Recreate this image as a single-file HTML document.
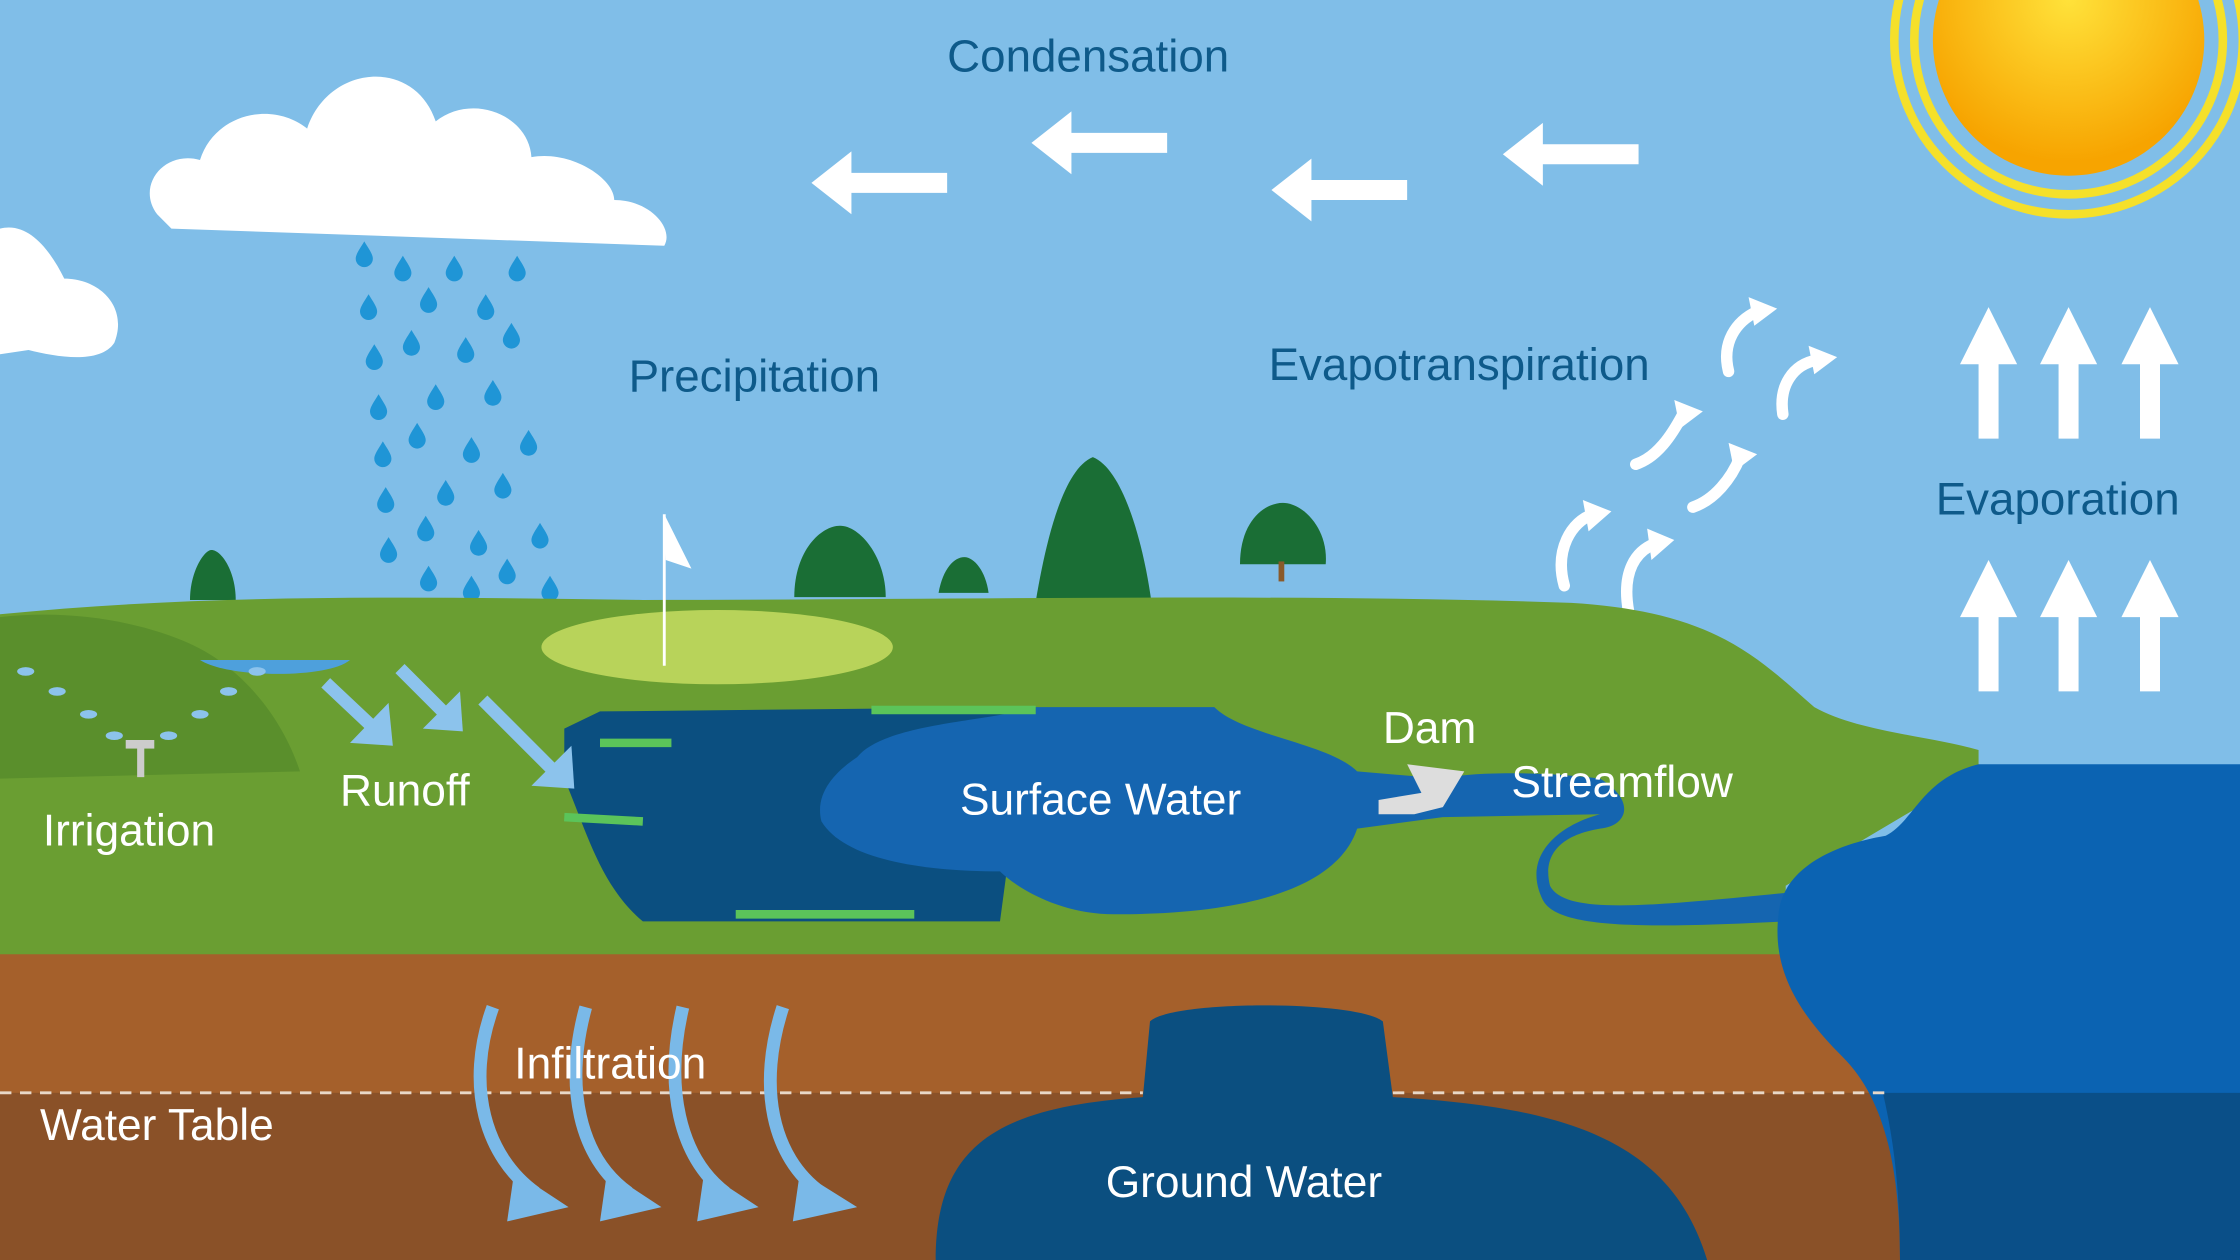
<!DOCTYPE html>
<html><head><meta charset="utf-8"><style>
html,body{margin:0;padding:0;width:2240px;height:1260px;overflow:hidden;background:#80bee8}
svg{display:block}
text{font-family:"Liberation Sans",sans-serif}
</style></head><body>
<svg width="2240" height="1260" viewBox="0 0 1568 882" xmlns="http://www.w3.org/2000/svg">
<defs>
<radialGradient id="sun" cx="0.5" cy="0.35" r="0.6"><stop offset="0" stop-color="#ffe23a"/><stop offset="1" stop-color="#f7a400"/></radialGradient>
<g id="drop"><path d="M0,-9 C3,-4 6,0 6,3 A6,6 0 0 1 -6,3 C-6,0 -3,-4 0,-9Z" fill="#1f95d6"/></g>
<g id="upw"><path d="M-7,52 L-7,0 L-20,0 L0,-40 L20,0 L7,0 L7,52Z" fill="#fff"/></g>
<g id="lw"><path d="M0,0 L28,-22 L28,-7 L95,-7 L95,7 L28,7 L28,22Z" fill="#fff"/></g>
</defs>
<rect width="1568" height="882" fill="#80bee8"/>
<!-- sun -->
<circle cx="1448" cy="28" r="122" fill="none" stroke="#f5e02a" stroke-width="6"/>
<circle cx="1448" cy="28" r="108" fill="none" stroke="#f5e02a" stroke-width="6"/>
<circle cx="1448" cy="28" r="95" fill="url(#sun)"/>
<!-- clouds -->
<path d="M110,150 C95,130 115,105 140,112 C150,80 190,70 215,90 C230,45 290,40 305,85 C330,65 370,80 372,110 C400,105 430,125 430,140 C455,140 472,160 465,172 L120,160 Z" fill="#fff"/>
<path d="M0,160 C20,155 35,175 45,195 C70,195 90,215 80,240 C70,255 40,250 20,245 L0,248Z" fill="#fff"/>
<!-- rain -->
<g>
<use href="#drop" x="255" y="178"/><use href="#drop" x="282" y="188"/><use href="#drop" x="318" y="188"/><use href="#drop" x="362" y="188"/>
<use href="#drop" x="258" y="215"/><use href="#drop" x="300" y="210"/><use href="#drop" x="340" y="215"/>
<use href="#drop" x="262" y="250"/><use href="#drop" x="288" y="240"/><use href="#drop" x="326" y="245"/><use href="#drop" x="358" y="235"/>
<use href="#drop" x="265" y="285"/><use href="#drop" x="305" y="278"/><use href="#drop" x="345" y="275"/>
<use href="#drop" x="268" y="318"/><use href="#drop" x="292" y="305"/><use href="#drop" x="330" y="315"/><use href="#drop" x="370" y="310"/>
<use href="#drop" x="270" y="350"/><use href="#drop" x="312" y="345"/><use href="#drop" x="352" y="340"/>
<use href="#drop" x="272" y="385"/><use href="#drop" x="298" y="370"/><use href="#drop" x="335" y="380"/><use href="#drop" x="378" y="375"/>
<use href="#drop" x="300" y="405"/><use href="#drop" x="330" y="412"/><use href="#drop" x="355" y="400"/><use href="#drop" x="385" y="412"/>
</g>
<!-- condensation arrows -->
<use href="#lw" x="568" y="128"/><use href="#lw" x="722" y="100"/><use href="#lw" x="890" y="133"/><use href="#lw" x="1052" y="108"/>
<!-- evaporation arrows -->
<use href="#upw" x="1392" y="255"/><use href="#upw" x="1448" y="255"/><use href="#upw" x="1505" y="255"/>
<use href="#upw" x="1392" y="432"/><use href="#upw" x="1448" y="432"/><use href="#upw" x="1505" y="432"/>
<!-- evapotranspiration curly arrows -->
<g fill="none" stroke="#fff" stroke-width="8" stroke-linecap="round">
<path d="M1095,410 C1088,385 1100,365 1115,360"/><path d="M1140,428 C1135,400 1145,385 1160,380"/>
<path d="M1145,325 C1160,320 1170,305 1178,290"/><path d="M1185,355 C1200,350 1212,335 1218,320"/>
<path d="M1210,260 C1205,240 1215,225 1230,218"/><path d="M1248,290 C1245,270 1255,255 1272,252"/>
</g>
<g fill="#fff">
<path d="M1108,350 L1128,358 L1112,372Z"/><path d="M1153,370 L1172,378 L1156,392Z"/>
<path d="M1172,280 L1192,288 L1176,300Z"/><path d="M1210,310 L1230,318 L1214,330Z"/>
<path d="M1224,208 L1244,216 L1228,228Z"/><path d="M1266,242 L1286,250 L1270,262Z"/>
</g>
<!-- trees -->
<g fill="#1a6e35">
<path d="M133,420 C133,400 143,385 148,385 C155,385 165,400 165,420Z"/>
<path d="M556,418 C556,385 575,368 588,368 C602,368 620,390 620,418Z"/>
<path d="M657,415 C660,398 668,390 675,390 C682,390 690,400 692,415Z"/>
<path d="M722,440 C728,400 740,330 765,320 C790,330 805,400 808,440Z"/>
<path d="M868,395 C868,365 885,352 898,352 C912,352 930,370 928,395Z"/>
</g>
<rect x="763" y="430" width="6" height="16" fill="#8a5a2a"/><rect x="895" y="393" width="4" height="14" fill="#8a5a2a"/>
<!-- soil -->
<rect x="0" y="660" width="1568" height="222" fill="#a5602b"/>
<rect x="0" y="765" width="1568" height="117" fill="#8a5128"/>
<!-- grass -->
<path d="M0,430 C150,415 300,418 450,420 C650,420 900,415 1100,422 C1200,428 1230,460 1270,495 C1300,512 1350,515 1385,525 L1385,540 L1250,620 L1250,668 L0,668Z" fill="#6a9e32"/>
<path d="M0,432 C60,425 120,440 150,460 C180,480 200,510 210,540 L0,545Z" fill="#5a8f2c"/>
<!-- golf green -->
<ellipse cx="502" cy="453" rx="123" ry="26" fill="#b8d35a"/>
<line x1="465" y1="360" x2="465" y2="466" stroke="#fff" stroke-width="2"/>
<path d="M465,360 L484,398 L466,392Z" fill="#fff"/>
<!-- small pond left -->
<path d="M140,462 L245,462 C230,475 160,475 140,462Z" fill="#4ea0dc"/>
<!-- lake -->
<path d="M395,510 L420,498 L720,495 L700,645 L450,645 C420,620 410,580 395,545Z" fill="#0b4f80"/>
<path d="M600,530 C620,505 700,505 720,495 L850,495 C870,515 930,520 950,540 L1010,545 C1030,540 1080,540 1120,545 C1145,560 1140,578 1120,580 C1090,585 1080,600 1085,620 C1095,640 1150,635 1250,625 L1250,645 C1150,650 1090,650 1080,630 C1065,600 1090,578 1120,570 L1010,572 L950,580 C940,610 900,640 780,640 C740,640 710,620 700,610 C640,610 590,600 575,575 C570,555 585,540 600,530Z" fill="#1565b0"/>
<path d="M420,520 L470,520 M395,572 L450,575 M515,640 L640,640 M610,497 L725,497" stroke="#5bc45a" stroke-width="6"/>
<!-- ocean -->
<path d="M1385,535 L1568,535 L1568,882 L1330,882 C1330,820 1320,770 1290,740 C1260,710 1240,680 1245,640 C1248,605 1290,590 1320,585 C1340,575 1345,545 1385,535Z" fill="#0b63b2"/>
<path d="M1318,765 L1568,765 L1568,882 L1330,882 C1330,830 1325,795 1318,765Z" fill="#0a4f88"/>
<!-- ground water -->
<path d="M655,882 C655,800 700,775 800,768 L805,715 C820,700 950,700 968,715 L975,768 C1100,775 1170,800 1195,882Z" fill="#0b4f80"/>
<!-- water table -->
<line x1="0" y1="765" x2="800" y2="765" stroke="#e8d8c8" stroke-width="2" stroke-dasharray="8,6"/>
<line x1="975" y1="765" x2="1320" y2="765" stroke="#e8d8c8" stroke-width="2" stroke-dasharray="8,6"/>
<!-- infiltration arrows -->
<g fill="none" stroke="#7ab9e8" stroke-width="9">
<path d="M345,705 C325,760 340,810 375,835"/><path d="M410,705 C395,760 405,810 440,835"/>
<path d="M478,705 C465,760 475,810 508,835"/><path d="M548,705 C530,760 540,810 575,835"/>
</g>
<g fill="#7ab9e8">
<path d="M360,820 L398,845 L355,855Z"/><path d="M425,820 L463,845 L420,855Z"/><path d="M493,820 L531,845 L488,855Z"/><path d="M560,820 L600,845 L555,855Z"/>
</g>
<!-- runoff arrows -->
<g stroke="#8cc3ec" stroke-width="9" fill="none"><path d="M228,478 L262,510"/><path d="M280,468 L312,500"/><path d="M338,490 L388,540"/></g>
<g fill="#8cc3ec"><path d="M245,520 L275,522 L272,492Z"/><path d="M296,510 L324,512 L322,484Z"/><path d="M372,550 L402,552 L400,522Z"/></g>
<!-- irrigation -->
<rect x="96" y="522" width="5" height="22" fill="#ccc"/><rect x="88" y="518" width="20" height="6" fill="#ccc"/>
<g fill="#8cc3ec"><ellipse cx="18" cy="470" rx="6" ry="3"/><ellipse cx="40" cy="484" rx="6" ry="3"/><ellipse cx="62" cy="500" rx="6" ry="3"/><ellipse cx="80" cy="515" rx="6" ry="3"/><ellipse cx="180" cy="470" rx="6" ry="3"/><ellipse cx="160" cy="484" rx="6" ry="3"/><ellipse cx="140" cy="500" rx="6" ry="3"/><ellipse cx="118" cy="515" rx="6" ry="3"/></g>
<!-- dam -->
<path d="M985,535 L1025,540 L1010,565 L990,570 L965,570 L965,560 L995,555Z" fill="#ddd"/>
<!-- labels -->
<g font-size="32" fill="#0e5a8a">
<text x="663" y="50">Condensation</text>
<text x="440" y="274">Precipitation</text>
<text x="888" y="266">Evapotranspiration</text>
<text x="1355" y="360">Evaporation</text>
</g>
<g font-size="31" fill="#fff">
<text x="968" y="520">Dam</text>
<text x="1058" y="558">Streamflow</text>
<text x="672" y="570">Surface Water</text>
<text x="238" y="564">Runoff</text>
<text x="30" y="592">Irrigation</text>
<text x="360" y="755">Infiltration</text>
<text x="28" y="798">Water Table</text>
<text x="774" y="838">Ground Water</text>
</g>
</svg>
</body></html>
